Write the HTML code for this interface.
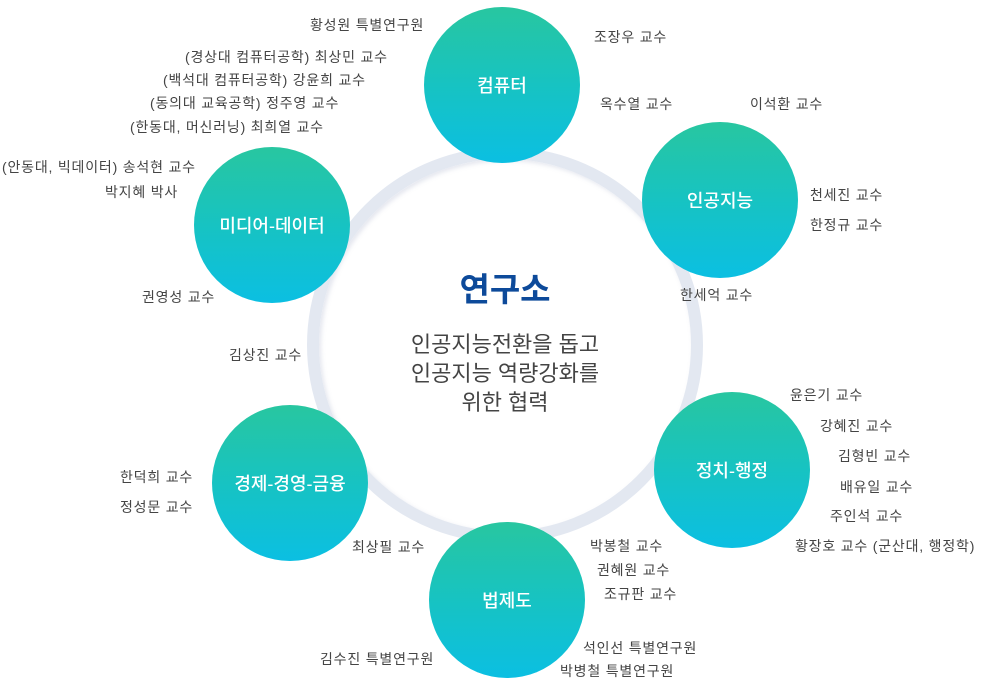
<!DOCTYPE html>
<html><head><meta charset="utf-8"><style>
body{margin:0;background:#fff;width:981px;height:686px;overflow:hidden;position:relative;font-family:"Liberation Sans","Noto Sans CJK KR",sans-serif}
.ring{position:absolute;left:307px;top:147px;width:372px;height:372px;border-radius:50%;border:12px solid #e3e8f1;box-shadow:inset 2px 2px 4px rgba(150,160,190,.25)}
.c{position:absolute;width:156px;height:156px;border-radius:50%;background:linear-gradient(180deg,#28c6a0 0%,#17c3c2 50%,#0bbfe2 100%);color:#fff;font-size:18px;font-weight:500;display:flex;align-items:center;justify-content:center}
.t{position:absolute;font-size:14px;letter-spacing:0.8px;color:#444;white-space:nowrap;line-height:16px}
.ctr{position:absolute;left:355px;width:300px;text-align:center}
</style></head><body>
<div class="ring"></div>
<div class="ctr" style="top:270px;font-size:33px;font-weight:bold;color:#0d4a9a;line-height:40px">연구소</div>
<div class="ctr" style="top:330px;font-size:22px;color:#444;line-height:29px">인공지능전환을 돕고<br>인공지능 역량강화를<br>위한 협력</div>
<div class="c" style="left:424px;top:7px">컴퓨터</div>
<div class="c" style="left:642px;top:122px">인공지능</div>
<div class="c" style="left:194px;top:147px">미디어-데이터</div>
<div class="c" style="left:212px;top:405px">경제-경영-금융</div>
<div class="c" style="left:654px;top:392px">정치-행정</div>
<div class="c" style="left:429px;top:522px">법제도</div>
<div class="t" style="left:310px;top:17px">황성원 특별연구원</div>
<div class="t" style="left:185px;top:49px">(경상대 컴퓨터공학) 최상민 교수</div>
<div class="t" style="left:163px;top:72px">(백석대 컴퓨터공학) 강윤희 교수</div>
<div class="t" style="left:150px;top:95px">(동의대 교육공학) 정주영 교수</div>
<div class="t" style="left:130px;top:119px">(한동대, 머신러닝) 최희열 교수</div>
<div class="t" style="left:2px;top:159px">(안동대, 빅데이터) 송석현 교수</div>
<div class="t" style="left:105px;top:184px">박지혜 박사</div>
<div class="t" style="left:142px;top:289px">권영성 교수</div>
<div class="t" style="left:229px;top:347px">김상진 교수</div>
<div class="t" style="left:594px;top:29px">조장우 교수</div>
<div class="t" style="left:600px;top:96px">옥수열 교수</div>
<div class="t" style="left:750px;top:96px">이석환 교수</div>
<div class="t" style="left:810px;top:187px">천세진 교수</div>
<div class="t" style="left:810px;top:217px">한정규 교수</div>
<div class="t" style="left:680px;top:287px">한세억 교수</div>
<div class="t" style="left:790px;top:387px">윤은기 교수</div>
<div class="t" style="left:820px;top:418px">강혜진 교수</div>
<div class="t" style="left:838px;top:448px">김형빈 교수</div>
<div class="t" style="left:840px;top:479px">배유일 교수</div>
<div class="t" style="left:830px;top:508px">주인석 교수</div>
<div class="t" style="left:795px;top:538px">황장호 교수 (군산대, 행정학)</div>
<div class="t" style="left:120px;top:469px">한덕희 교수</div>
<div class="t" style="left:120px;top:499px">정성문 교수</div>
<div class="t" style="left:352px;top:539px">최상필 교수</div>
<div class="t" style="left:590px;top:538px">박봉철 교수</div>
<div class="t" style="left:597px;top:562px">권혜원 교수</div>
<div class="t" style="left:604px;top:586px">조규판 교수</div>
<div class="t" style="left:320px;top:651px">김수진 특별연구원</div>
<div class="t" style="left:583px;top:640px">석인선 특별연구원</div>
<div class="t" style="left:560px;top:663px">박병철 특별연구원</div>
</body></html>
